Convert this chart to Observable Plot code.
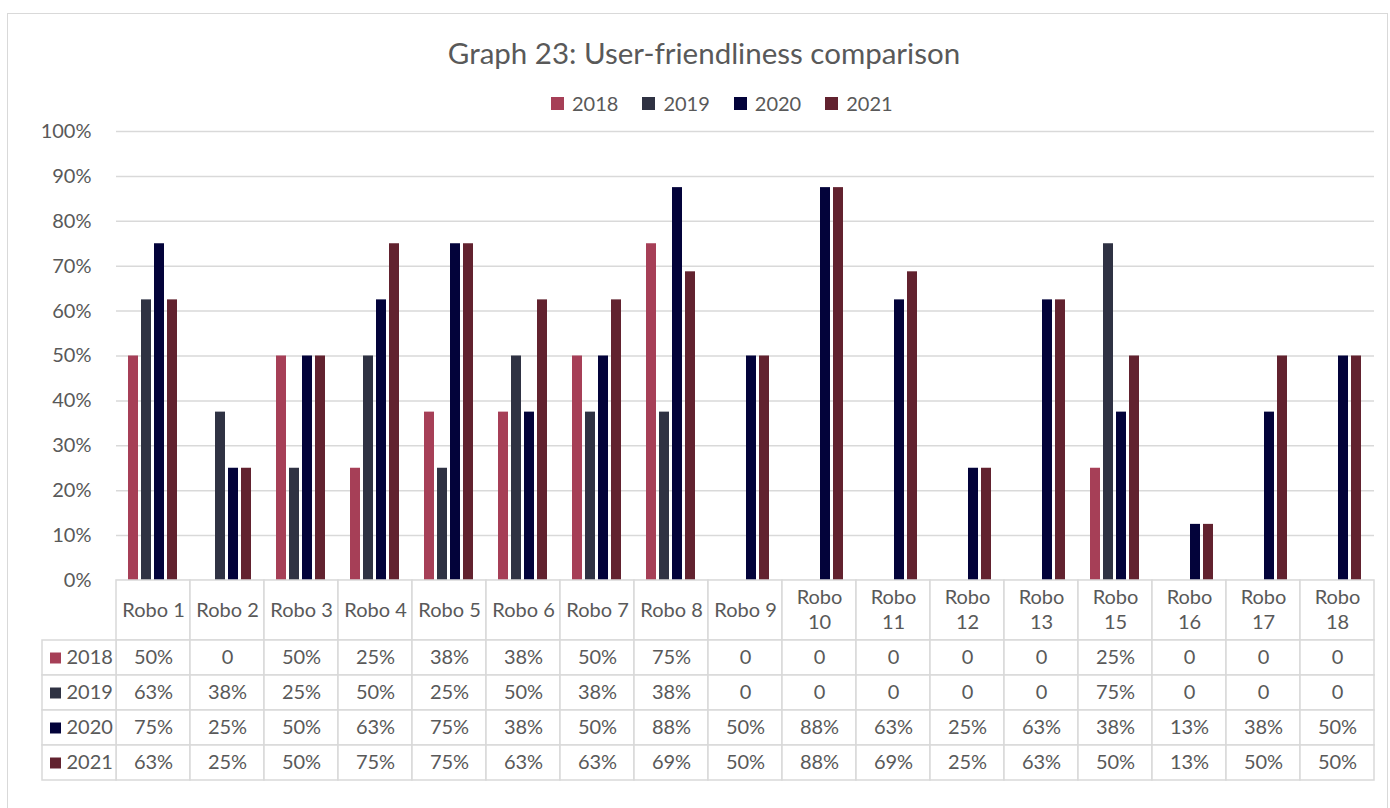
<!DOCTYPE html>
<html>
<head>
<meta charset="utf-8">
<script src="https://cdn.jsdelivr.net/npm/d3@7"></script>
<script src="https://cdn.jsdelivr.net/npm/@observablehq/plot@0.6"></script>
<style>
  html, body { margin: 0; padding: 0; background: #fff; }
  #chart { position: relative; width: 1390px; height: 808px; overflow: hidden; font-family: Lato, "Open Sans", sans-serif; color: #595959; }
  #frame { position: absolute; left: 7px; top: 13px; width: 1381px; height: 820px; border: 1.5px solid #d9d9d9; box-sizing: border-box; }
  #title { position: absolute; left: 0; width: 1408px; top: 35px; text-align: center; font-size: 29.5px; line-height: 36px; }
  #legend { position: absolute; left: 551px; top: 91px; display: flex; align-items: center; font-size: 20px; line-height: 24px; }
  #legend .item { display: flex; align-items: center; margin-right: 24px; }
  #legend .sw { width: 13px; height: 13px; margin-right: 8px; }
  .abs { position: absolute; left: 0; }
</style>
</head>
<body>
<div id="chart">
  <div id="frame"></div>
  <div id="title"></div>
  <div id="legend"></div>
</div>
<script>
const titleText = "Graph 23: User-friendliness comparison";
const categories = ["Robo 1","Robo 2","Robo 3","Robo 4","Robo 5","Robo 6","Robo 7","Robo 8","Robo 9","Robo 10","Robo 11","Robo 12","Robo 13","Robo 15","Robo 16","Robo 17","Robo 18"];
const years = ["2018","2019","2020","2021"];
const v2018 = [0.50,0,0.50,0.25,0.375,0.375,0.50,0.75,0,0,0,0,0,0.25,0,0,0];
const v2019 = [0.625,0.375,0.25,0.50,0.25,0.50,0.375,0.375,0,0,0,0,0,0.75,0,0,0];
const v2020 = [0.75,0.25,0.50,0.625,0.75,0.375,0.50,0.875,0.50,0.875,0.625,0.25,0.625,0.375,0.125,0.375,0.50];
const v2021 = [0.625,0.25,0.50,0.75,0.75,0.625,0.625,0.6875,0.50,0.875,0.6875,0.25,0.625,0.50,0.125,0.50,0.50];
const colors = ["#A63F57","#2F3243","#03033A","#62222F"];
const yTicks = [0,0.1,0.2,0.3,0.4,0.5,0.6,0.7,0.8,0.9,1.0];

const series = [v2018, v2019, v2020, v2021];
const rows = years.flatMap((yr, i) => categories.map((cat, j) => ({year: yr, cat, value: series[i][j]})));
const fmtCell = v => v === 0 ? "0" : Math.round(v * 100) + "%";
const gridColor = "#d9d9d9";
const textColor = "#595959";
const font = "Lato, 'Open Sans', sans-serif";

document.getElementById("title").textContent = titleText;
const legend = document.getElementById("legend");
years.forEach((yr, i) => {
  const it = document.createElement("div"); it.className = "item";
  const sw = document.createElement("div"); sw.className = "sw"; sw.style.background = colors[i];
  const tx = document.createElement("span"); tx.textContent = yr;
  it.appendChild(sw); it.appendChild(tx); legend.appendChild(it);
});

const chart = document.getElementById("chart");

// main bar chart
const main = Plot.plot({
  width: 1390, height: 470,
  marginLeft: 114, marginRight: 15, marginTop: 11, marginBottom: 10,
  style: {background: "transparent", overflow: "visible", fontFamily: font, fontSize: "20px", color: textColor},
  facet: {data: rows, x: "cat"},
  fx: {domain: categories, padding: 0, axis: null, label: null},
  x: {domain: years, paddingInner: 0.22, paddingOuter: 0.88, axis: null},
  y: {domain: [0, 1], ticks: yTicks, tickFormat: d => Math.round(d * 100) + "%", tickSize: 0, tickPadding: 25, label: null},
  color: {domain: years, range: colors},
  marks: [
    Plot.ruleY(yTicks, {stroke: gridColor, strokeWidth: 1.5, strokeOpacity: 1}),
    Plot.barY(rows, {x: "year", y: "value", fill: "year"})
  ]
});
main.classList.add("abs");
main.style.top = "120px";
chart.appendChild(main);

// header row of the data table
const headerLabels = categories.map(c => c.length > 6 ? c.replace(" ", "\n") : c);
const header = Plot.plot({
  width: 1390, height: 60,
  marginLeft: 114, marginRight: 15, marginTop: 0, marginBottom: 0,
  style: {background: "transparent", overflow: "visible", fontFamily: font, color: textColor},
  x: {domain: categories, padding: 0, axis: null},
  marks: [
    Plot.cell(categories, {x: d => d, fill: "white", stroke: gridColor, strokeWidth: 1.5}),
    Plot.text(categories, {x: d => d, text: (d, i) => headerLabels[i], fontSize: 20, fill: textColor, lineHeight: 1.25, dy: -2})
  ]
});
header.classList.add("abs");
header.style.top = "580px";
chart.appendChild(header);

// data rows of the table
const keyCol = "key";
const table = Plot.plot({
  width: 1390, height: 140,
  marginLeft: 40, marginRight: 15, marginTop: 0, marginBottom: 0,
  style: {background: "transparent", overflow: "visible", fontFamily: font, color: textColor},
  x: {domain: [keyCol, ...categories], padding: 0, axis: null},
  y: {domain: years, padding: 0, axis: null},
  color: {domain: years, range: colors},
  marks: [
    Plot.cell(rows, {x: "cat", y: "year", fill: "white", stroke: gridColor, strokeWidth: 1.5}),
    Plot.cell(years, {x: () => keyCol, y: d => d, fill: "white", stroke: gridColor, strokeWidth: 1.5}),
    Plot.text(rows, {x: "cat", y: "year", text: d => fmtCell(d.value), fontSize: 20, fill: textColor}),
    Plot.dot(years, {x: () => keyCol, y: d => d, symbol: "square", r: 6.2, fill: d => d, stroke: "none", dx: -24}),
    Plot.text(years, {x: () => keyCol, y: d => d, text: d => d, textAnchor: "start", dx: -13, fontSize: 20, fill: textColor})
  ]
});
table.classList.add("abs");
table.style.top = "640px";
chart.appendChild(table);
</script>
</body>
</html>
